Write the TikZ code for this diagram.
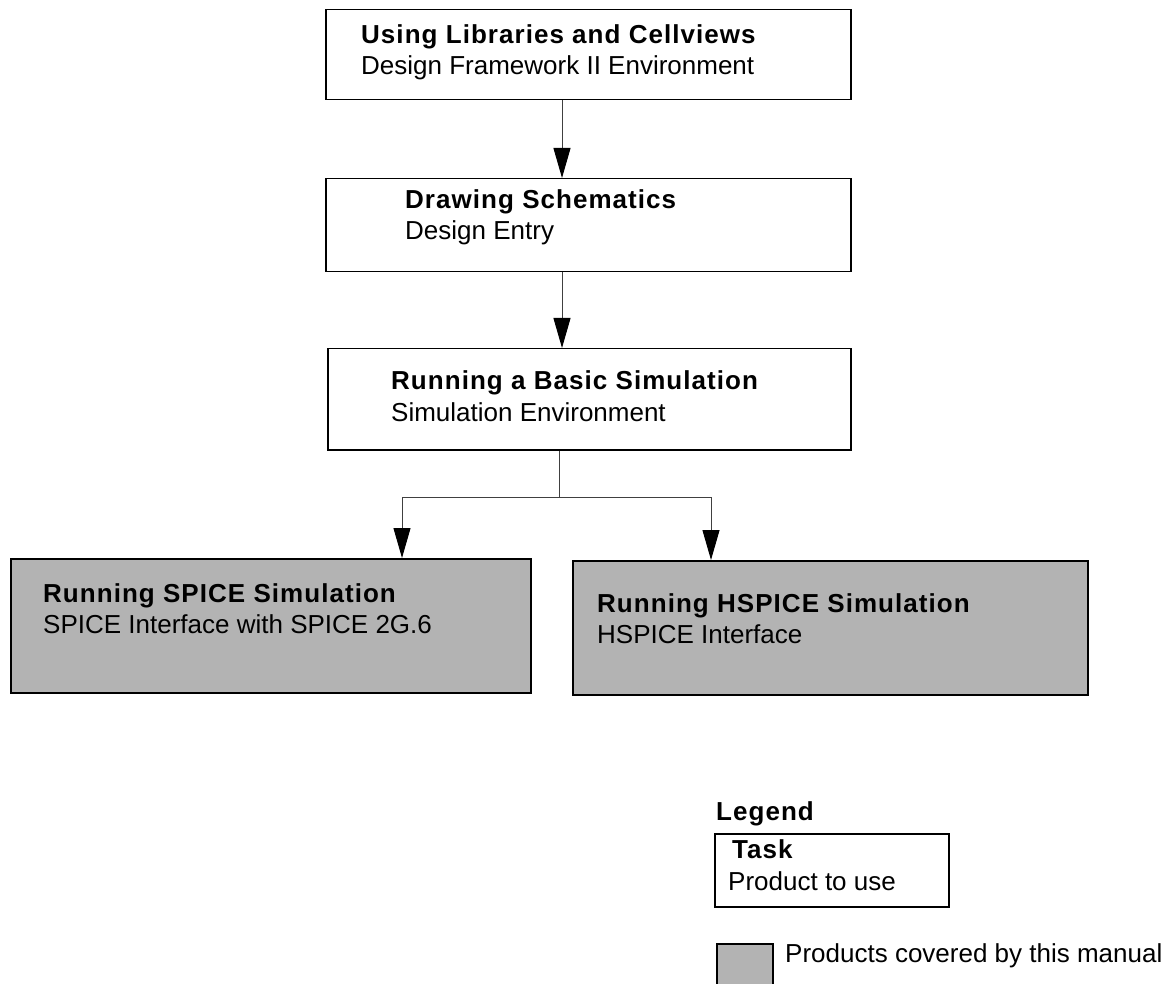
\documentclass[tikz,border=0pt]{standalone}
\usepackage{fontspec}
\setmainfont{Liberation Sans}
\newfontfamily\taskfont{Liberation Sans}[LetterSpace=4]
\usetikzlibrary{arrows.meta}
\definecolor{covered}{RGB}{179,179,179}
\newcommand\figsize{\fontsize{26pt}{31pt}\selectfont}
\tikzset{
 stage/.style={draw,line width=1.5pt,anchor=north west,inner sep=0pt},
 shaded/.style={stage,fill=covered},
 title/.style={anchor=base west,inner sep=0pt,font=\figsize\taskfont\bfseries},
 tool/.style={anchor=base west,inner sep=0pt,font=\figsize},
 flow/.style={draw=black!75,line width=1pt,-{Triangle[width=17pt,length=30pt,color=black]}}
}
\begin{document}
\begin{tikzpicture}[x=1pt,y=-1pt]
 \useasboundingbox (0,0) rectangle (1173,984);
 % task boxes
 \node[stage,minimum width=525pt,minimum height=90pt] (lib) at (325,9) {};
 \node[title] (libtitle) at (361,44) {Using Libraries and Cellviews};
 \node[tool] (libtool) at (361,75) {Design Framework II Environment};
 \node[stage,minimum width=525pt,minimum height=93pt] (sch) at (325,178) {};
 \node[title] (schtitle) at (405,209) {Drawing Schematics};
 \node[tool] (schtool) at (405,240) {Design Entry};
 \node[stage,minimum width=523pt,minimum height=101pt] (sim) at (327,348) {};
 \node[title] (simtitle) at (391,389) {Running a Basic Simulation};
 \node[tool] (simtool) at (391,421) {Simulation Environment};
 \node[shaded,minimum width=520pt,minimum height=134pt] (spice) at (10,558) {};
 \node[title] (spicetitle) at (43,602) {Running SPICE Simulation};
 \node[tool] (spicetool) at (43,633) {SPICE Interface with SPICE 2G.6};
 \node[shaded,minimum width=515pt,minimum height=134pt] (hspice) at (572,560) {};
 \node[title] (hspicetitle) at (597,612) {Running HSPICE Simulation};
 \node[tool] (hspicetool) at (597,643) {HSPICE Interface};
 % connectors
 \coordinate (spine) at (562,0);
 \coordinate (fork) at (559,497);
 \draw[flow] (lib.south -| spine) -- (sch.north -| spine);
 \draw[flow] (sch.south -| spine) -- (sim.north -| spine);
 \draw[draw=black!75,line width=1pt] (sim.south -| fork) -- (fork);
 \draw[flow] (fork) -| (spice.north -| 402,0);
 \draw[flow] (fork) -| (hspice.north -| 711,0);
 % legend
 \node[title] (legend) at (716,820) {Legend};
 \node[stage,minimum width=234pt,minimum height=73pt] (key) at (714,833) {};
 \node[title] (keytitle) at (732,858) {Task};
 \node[tool] (keytool) at (728,890) {Product to use};
 \node[shaded,minimum width=56pt,minimum height=60pt] (swatch) at (716,943) {};
 \node[tool] (swatchtext) at (785,962) {Products covered by this manual};
\end{tikzpicture}
\end{document}
